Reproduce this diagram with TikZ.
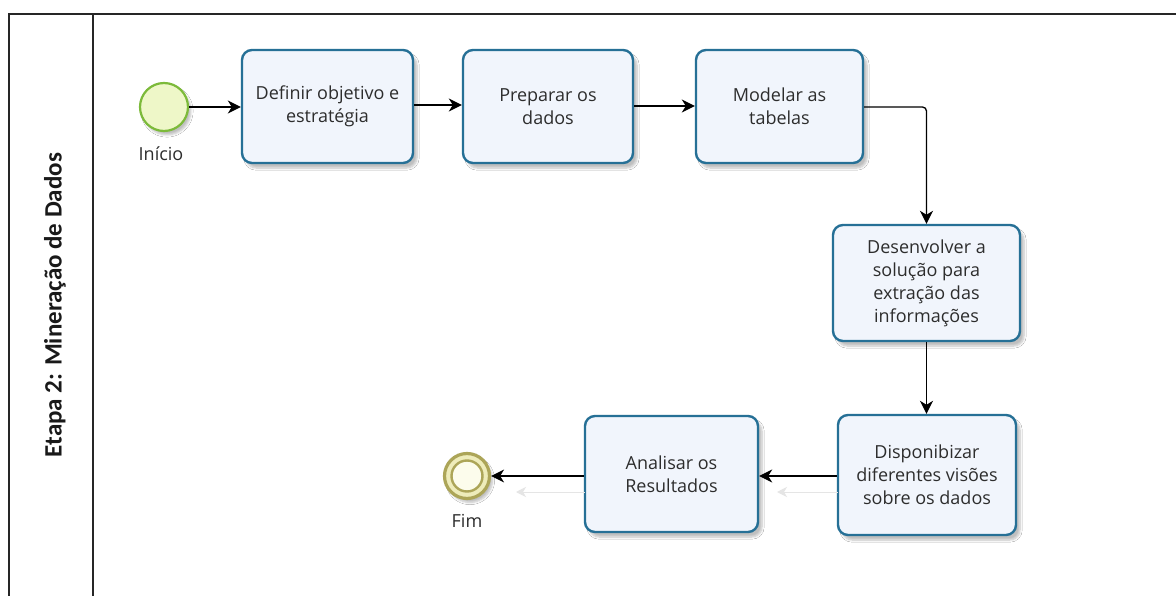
\documentclass[tikz,border=0pt]{standalone}
\usepackage{fontspec}
\setmainfont{Open Sans}
\newfontfamily\lanefont{Carlito}
\usetikzlibrary{arrows.meta,shadows.blur}
\definecolor{taskline}{RGB}{38,112,150}
\definecolor{taskfill}{RGB}{241,245,252}
\definecolor{startline}{RGB}{124,186,58}
\definecolor{startfill}{RGB}{238,247,200}
\definecolor{endline}{RGB}{172,165,88}
\definecolor{endband}{RGB}{238,236,186}
\definecolor{endfill}{RGB}{252,252,236}
\definecolor{txt}{RGB}{45,45,45}
\tikzset{
  task/.style={draw=taskline, line width=2.4pt, fill=taskfill, rounded corners=10pt,
    text=txt, align=center, font=\fontsize{18}{23}\selectfont, inner sep=0pt,
    blur shadow={shadow xshift=4pt, shadow yshift=-5pt, shadow blur steps=6, shadow opacity=25}},
  startev/.style={circle, draw=startline, line width=2.2pt, fill=startfill, minimum size=48pt, inner sep=0pt,
    blur shadow={shadow xshift=3pt, shadow yshift=-4pt, shadow blur steps=5, shadow opacity=25}},
  endev/.style={circle, draw=endline, line width=3.2pt, fill=endband, minimum size=45pt, inner sep=0pt,
    blur shadow={shadow xshift=3pt, shadow yshift=-4pt, shadow blur steps=5, shadow opacity=25}},
  evlabel/.style={text=txt, font=\fontsize{18}{20}\selectfont},
  flow/.style={line width=1.3pt, -{Stealth[length=13pt, width=13pt, inset=4pt]}},
  ghost/.style={line width=1pt, draw=black!10, -{Stealth[length=10pt, width=10pt, inset=3pt, fill=black!10]}},
  lane/.style={line width=1.5pt, draw=black!85}
}
\begin{document}
\begin{tikzpicture}[x=1pt, y=-1pt]
\useasboundingbox (0,0) rectangle (1176,596);
\fill[white] (0,0) rectangle (1176,596);

% pool frame and lane header
\draw[lane] (9,596) -- (9,14) -- (1176,14);
\draw[lane] (93,14) -- (93,596);
\node[rotate=90, font=\lanefont\fontsize{25}{27}\bfseries, text=black!90] (lanetitle) at (55,305) {Etapa 2: Mineração de Dados};

% events
\node[startev] (ini) at (164,107) {};
\node[evlabel] (inilbl) at (161,154) {Início};
\node[endev] (fim) at (467,476) {};
\draw[endline, line width=2.4pt, fill=endfill] (fim.center) circle (15.5pt);
\node[evlabel] (fimlbl) at (467,521) {Fim};

% tasks
\node[task, minimum width=171pt, minimum height=113pt] (t1) at (327.5,106.5) {Definir objetivo e\\estratégia};
\node[task, minimum width=170pt, minimum height=113pt] (t2) at (548,106.5) {Preparar os\\dados};
\node[task, minimum width=167pt, minimum height=113pt] (t3) at (779.5,106.5) {Modelar as\\tabelas};
\node[task, minimum width=187pt, minimum height=116pt] (t4) at (926.5,283) {Desenvolver a\\solução para\\extração das\\informações};
\node[task, minimum width=178pt, minimum height=120pt] (t5) at (927,475) {Disponibizar\\diferentes visões\\sobre os dados};
\node[task, minimum width=173pt, minimum height=116pt] (t6) at (671.5,474) {Analisar os\\Resultados};

% faint shadows of the lower flows
\coordinate (g1a) at (838,492);
\coordinate (g1b) at (777,492);
\coordinate (g2a) at (585,492);
\coordinate (g2b) at (516,492);
\draw[ghost] (g1a) -- (g1b);
\draw[ghost] (g2a) -- (g2b);

% sequence flows
\draw[flow] (ini.east) -- (t1.west |- ini.east);
\draw[flow] (t1.east |- 0,105) -- (t2.west |- 0,105);
\draw[flow] (t2.east |- 0,106) -- (t3.west |- 0,106);
\draw[flow, rounded corners=4pt] (t3.east |- 0,107) -| (t4.north);
\draw[flow] (t4.south) -- (t5.north -| t4.south);
\draw[flow] (t5.west |- 0,476) -- (t6.east |- 0,476);
\draw[flow] (t6.west |- 0,476) -- (fim.east);
\end{tikzpicture}
\end{document}
